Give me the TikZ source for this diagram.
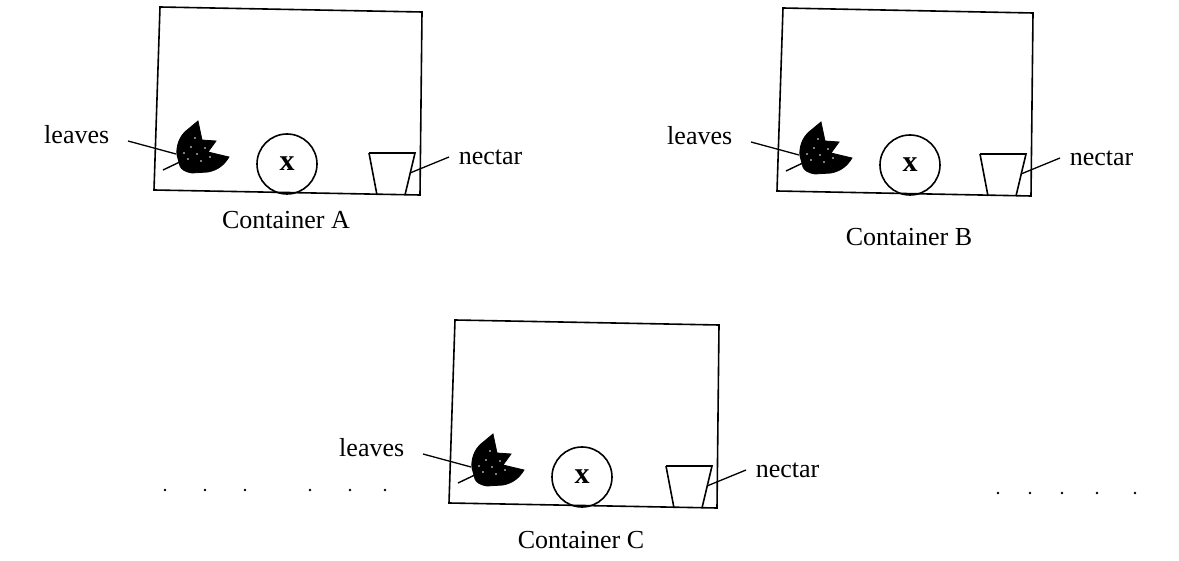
\documentclass[tikz,border=0pt]{standalone}
\usepackage{fontspec}
\setmainfont{Liberation Serif}
\begin{document}
\begin{tikzpicture}[x=1pt,y=-1pt,line width=1.6pt,
  lbl/.style={font=\fontsize{26}{30}\selectfont,inner sep=0pt},
  ball/.style={draw,circle,minimum size=60pt,inner sep=0pt,font=\fontsize{30}{34}\selectfont\bfseries},
  leafbody/.style={fill=black,draw=black,line width=0.8pt},
  speck/.style={fill=white},
  leader/.style={line width=1.3pt},
  dot/.style={fill=black}]
\useasboundingbox (0,0) rectangle (1179,561);

% one container: #1 name, #2/#3 top-left corner, #4 width, #5 caption depth
\newcommand\drawcontainer[5]{%
  \begin{scope}[shift={(#2,#3)}]
    % walls
    \draw (0,0) -- (#4,5) -- (#4-2,188) -- (-6,183) -- cycle;
    % ball
    \node[ball] (#1-ball) at (127,157) {x};
    % leaf with its stem
    \draw[line width=1.4pt] (3,163) -- (24,153);
    \draw[leafbody] (38,114) -- (42,133) -- (56,134) -- (48,145) -- (69,150)
      .. controls (64,158) and (58,163) .. (48,165) -- (32,166)
      .. controls (25,165) and (21,162) .. (20,159) -- (17,148)
      .. controls (16,140) and (19,130) .. (26,124) -- cycle;
    \foreach \p in {(31,140),(37,147),(45,141),(28,152),(41,154),(50,150),(35,131),(24,146)}
      \fill[speck] \p circle (0.9);
    \coordinate (#1-leaf) at (16,147);
    \node[lbl,anchor=east] (#1-leaves) at (-50,128) {leaves};
    \coordinate (#1-lt) at (-32,134);
    \draw[leader] (#1-lt) -- (#1-leaf);
    % nectar cup
    \draw (#4-53,146) -- (#4-7,146) -- (#4-17,188) (#4-53,146) -- (#4-45,188);
    \coordinate (#1-cup) at (#4-12,166);
    \node[lbl,anchor=west] (#1-nectar) at (#4+36,150) {nectar};
    \coordinate (#1-nt) at (#4+27,150);
    \draw[leader] (#1-cup) -- (#1-nt);
    % caption
    \node[lbl] (#1-cap) at (126,#5) {Container #1};
  \end{scope}}

\drawcontainer{A}{160}{7}{262}{213}
\drawcontainer{B}{783}{8}{250}{229}
\drawcontainer{C}{455}{320}{264}{220}

% dotted rows beside container C
\foreach \x in {165,205,245,310,350,385}
  \fill[dot] (\x,490) circle (1.3);
\foreach \x in {998,1030,1062,1097,1135}
  \fill[dot] (\x,493) circle (1.3);
\end{tikzpicture}
\end{document}
